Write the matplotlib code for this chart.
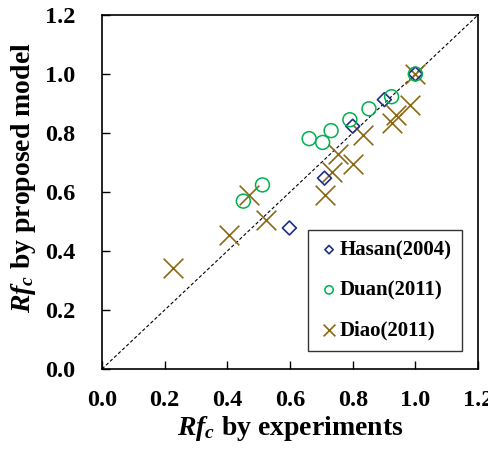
import numpy as np
import matplotlib
matplotlib.use('Agg')
import matplotlib.pyplot as plt

plt.rcParams['font.family'] = 'Liberation Serif'
plt.rcParams['font.weight'] = 'bold'
plt.rcParams['axes.labelweight'] = 'bold'
plt.rcParams['mathtext.fontset'] = 'custom'
plt.rcParams['mathtext.it'] = 'Liberation Serif:italic:bold'
plt.rcParams['mathtext.rm'] = 'Liberation Serif:bold'

# Hasan (2004)
hasan_x = [0.598, 0.710, 0.800, 0.901, 1.0]
hasan_y = [0.478, 0.647, 0.823, 0.913, 1.0]

# Duan (2011)
duan_x = [0.451, 0.512, 0.661, 0.704, 0.731, 0.791, 0.852, 0.924, 1.0]
duan_y = [0.569, 0.624, 0.781, 0.768, 0.808, 0.845, 0.882, 0.923, 1.0]

# Diao (2011)
diao_x = [0.228, 0.404, 0.523, 0.468, 0.712, 0.734, 0.752, 0.801, 0.832, 0.924, 0.939, 0.982, 1.0]
diao_y = [0.342, 0.455, 0.504, 0.591, 0.589, 0.668, 0.729, 0.695, 0.794, 0.835, 0.862, 0.896, 1.0]

ticks = [0.0, 0.2, 0.4, 0.6, 0.8, 1.0, 1.2]

fig = plt.figure(figsize=(4.89, 4.5), dpi=100)
ax = fig.add_axes([0.2086, 0.18, 0.769, 0.7867])

ax.plot([0, 1.2], [0, 1.2], color='black', linestyle=(0, (3, 2)), linewidth=0.8, zorder=1)
ax.scatter(hasan_x, hasan_y, marker='D', s=50, facecolors='none', edgecolors='#1f3080',
           linewidths=1.2, label='Hasan(2004)', zorder=3)
ax.scatter(duan_x, duan_y, marker='o', s=100, facecolors='none', edgecolors='#00b050',
           linewidths=1.1, label='Duan(2011)', zorder=3)
ax.scatter(diao_x, diao_y, marker='x', s=200, color='#8b6914', linewidths=1.2,
           label='Diao(2011)', zorder=2)

ax.set_xlim(0, 1.2)
ax.set_ylim(0, 1.2)
ax.set_xticks(ticks)
ax.set_yticks(ticks)
ax.set_xticklabels(['%.1f' % t for t in ticks])
ax.set_yticklabels(['%.1f' % t for t in ticks])
ax.tick_params(direction='in', length=6, width=1, labelsize=17.5)
ax.tick_params(axis='x', pad=15)
ax.tick_params(axis='y', pad=19)
for s in ax.spines.values():
    s.set_linewidth(1.2)

ax.set_xlabel('$Rf_c$ by experiments', fontsize=20, labelpad=2)
ax.set_ylabel('$Rf_c$ by proposed model', fontsize=20)
ax.yaxis.set_label_coords(-0.17, 0.54)

leg = ax.legend(loc='lower right', bbox_to_anchor=(0.957, 0.051), borderaxespad=0,
                fontsize=15, frameon=True, fancybox=False, edgecolor='black',
                handletextpad=0.0, handlelength=1.0, labelspacing=0.97, borderpad=0.5,
                markerscale=0.6)
leg.get_frame().set_linewidth(1.0)

fig.savefig('out.png', dpi=100)
